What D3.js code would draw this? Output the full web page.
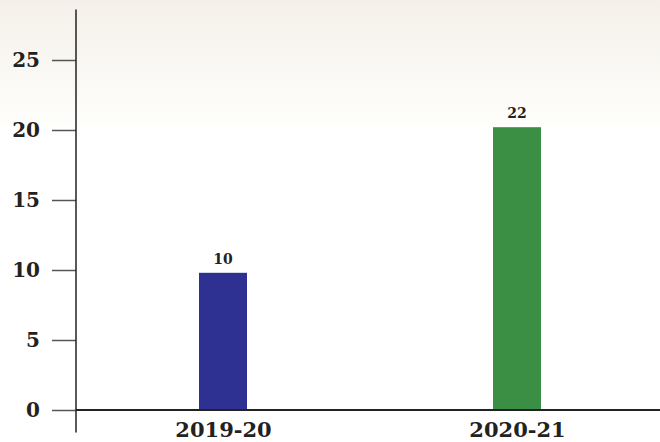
<!DOCTYPE html>
<html>
<head>
<meta charset="utf-8">
<script src="https://cdn.jsdelivr.net/npm/d3@7"></script>
<style>
  body { margin: 0; background: #fff; }
  svg { display: block; }
</style>
</head>
<body>
<svg id="graph"></svg>
<script>
// data
const years = ['2019-20', '2020-21']
const values = [9.8, 20.2]
const labels = ['10', '22']
const colors = ['#2e3192', '#3b8f44']
const yTicks = [0, 5, 10, 15, 20, 25]

const width = 660
const height = 442
const svg = d3.select('#graph').attr('width', width).attr('height', height)

const yScale = d3.scaleLinear().domain([0, 25]).range([410, 60])
const xScale = d3.scalePoint().domain(years).range([76, 664]).padding(0.5)
const barWidth = 48

// cream band at the top
const defs = svg.append('defs')
const grad = defs.append('linearGradient')
  .attr('id', 'bg').attr('x1', 0).attr('y1', 0).attr('x2', 0).attr('y2', 1)
grad.append('stop').attr('offset', '0%').attr('stop-color', '#f4f0e9')
grad.append('stop').attr('offset', '100%').attr('stop-color', '#fefefc')
svg.append('rect')
  .attr('x', 0).attr('y', 0)
  .attr('width', width).attr('height', yScale(values[1]))
  .attr('fill', 'url(#bg)')

// bars
svg.append('g').selectAll('rect')
  .data(values)
  .enter()
  .append('rect')
  .attr('x', (d, i) => xScale(years[i]) - barWidth / 2)
  .attr('y', (d) => yScale(d))
  .attr('width', barWidth)
  .attr('height', (d) => yScale(0) - yScale(d))
  .attr('fill', (d, i) => colors[i])

// value labels
svg.append('g').selectAll('text')
  .data(values)
  .enter()
  .append('text')
  .attr('x', (d, i) => xScale(years[i]))
  .attr('y', (d) => yScale(d) - 9)
  .attr('text-anchor', 'middle')
  .style('font', 'bold 14px "DejaVu Serif"')
  .style('fill', '#222')
  .text((d, i) => labels[i])

// y axis
const axisY = d3.axisLeft(yScale).tickValues(yTicks).tickSize(24).tickPadding(12)
const gy = svg.append('g').attr('transform', 'translate(76,0)').call(axisY)
gy.select('.domain').remove()
gy.selectAll('.tick line').attr('stroke', '#555').attr('stroke-width', 1.5)
gy.selectAll('.tick text')
  .style('font', 'bold 20px "DejaVu Serif"')
  .style('fill', '#222')
svg.append('line')
  .attr('x1', 76).attr('x2', 76)
  .attr('y1', yScale(28.6)).attr('y2', yScale(-1.6))
  .attr('stroke', '#222').attr('stroke-width', 1.5)

// x axis
const axisX = d3.axisBottom(xScale).tickSize(0).tickPadding(12)
const gx = svg.append('g').attr('transform', `translate(0,${yScale(0)})`).call(axisX)
gx.select('.domain').remove()
gx.selectAll('.tick text')
  .style('font', 'bold 21px "DejaVu Serif"')
  .style('fill', '#222')
svg.append('line')
  .attr('x1', 76).attr('x2', width)
  .attr('y1', yScale(0)).attr('y2', yScale(0))
  .attr('stroke', '#222').attr('stroke-width', 2)
</script>
</body>
</html>
